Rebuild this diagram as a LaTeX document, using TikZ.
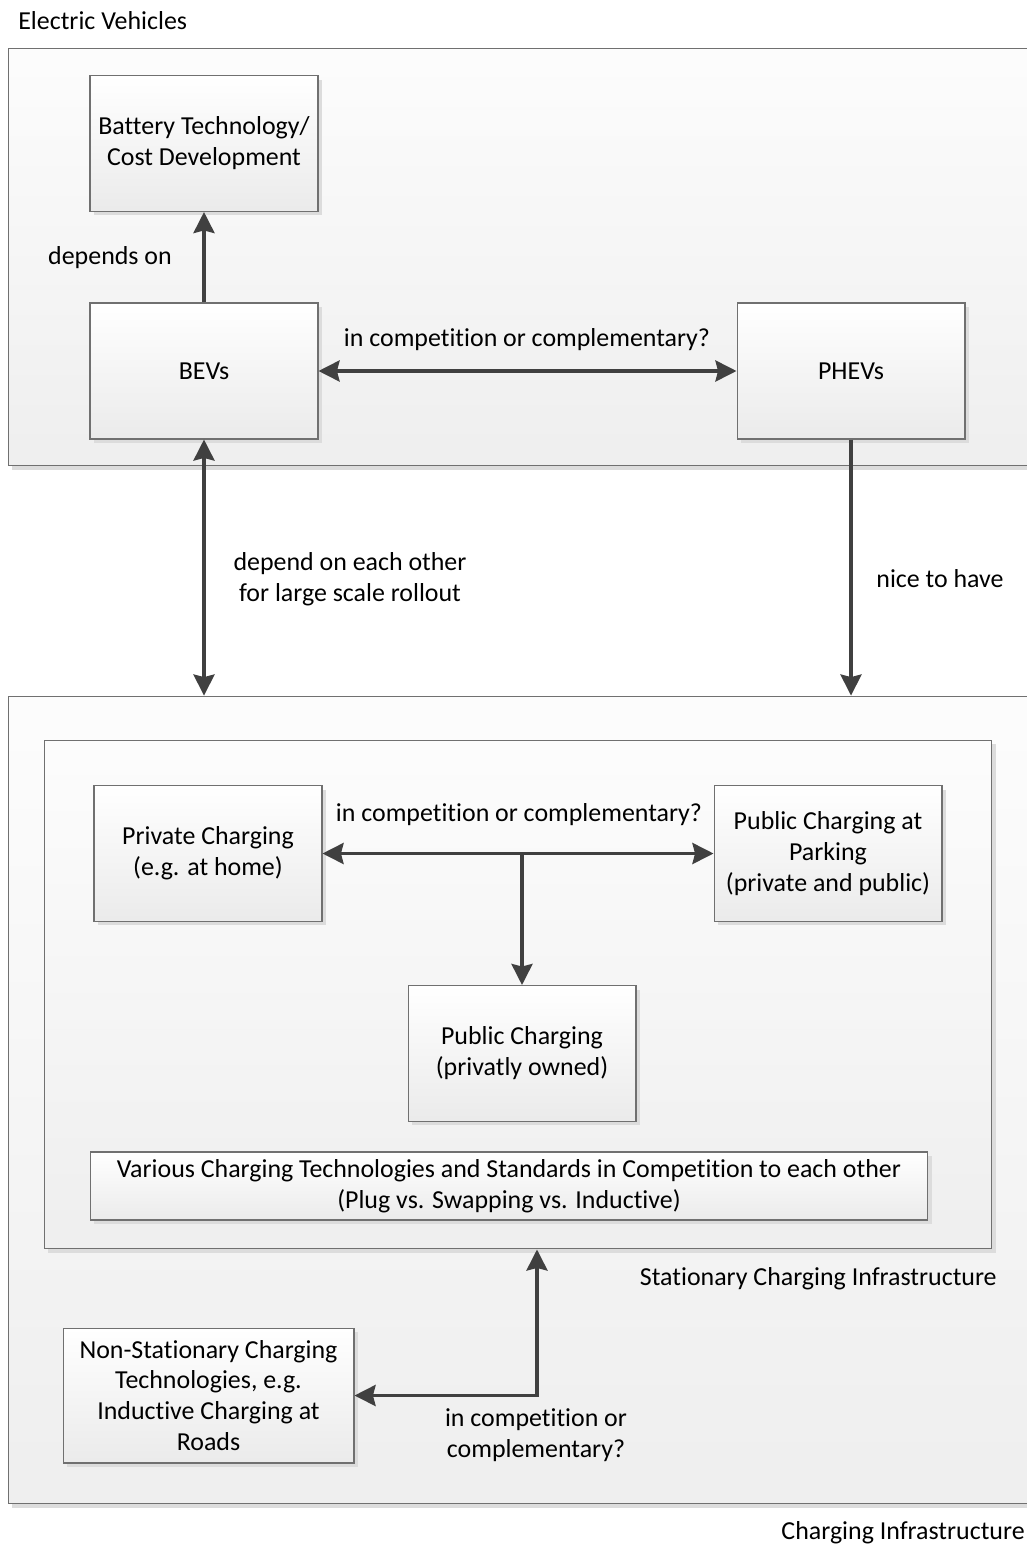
\documentclass[tikz,border=0pt]{standalone}
\usepackage{fontspec}
\setmainfont{Carlito}[Ligatures=NoCommon]
\usetikzlibrary{arrows.meta,shadows}

\definecolor{edgegray}{HTML}{707070}
\definecolor{arrowgray}{HTML}{404040}
\definecolor{shadowgray}{HTML}{DCDCDC}

\tikzset{
  shade box/.style={drop shadow={shadow xshift=0.08cm,shadow yshift=-0.08cm,fill=shadowgray,opacity=1}},
  tip/.tip={Stealth[length=12pt,width=12pt,inset=1.5pt]},
}

\begin{document}
\begin{tikzpicture}[x=0.02cm,y=-0.02cm,
  every node/.style={font=\fontsize{14.75}{17.6}\selectfont},
  frame/.style={draw=edgegray,line width=0.6pt,top color=black!1,bottom color=black!6.5,shade box},
  box/.style={draw=edgegray,line width=0.6pt,top color=white,bottom color=black!8,shade box,
    minimum width=4.56cm,minimum height=2.72cm,align=center,inner sep=2pt},
  link/.style={draw=arrowgray,line width=1.8pt,-tip},
  both/.style={draw=arrowgray,line width=1.8pt,tip-tip},
  lbl/.style={inner sep=0pt,align=center}]

\useasboundingbox[fill=white] (0,0) rectangle (1027,1544);

% outer frames
\node[frame,minimum width=20.64cm,minimum height=8.36cm] (ev) at (524,257) {};
\node[frame,minimum width=20.64cm,minimum height=16.16cm] (infra) at (524,1100) {};
\node[frame,minimum width=18.96cm,minimum height=10.18cm] (stat) at (518,994.5) {};

\node[lbl,anchor=west] (evtitle) at (18,21) {Electric Vehicles};
\node[lbl,anchor=east] (infratitle) at (1025,1533) {Charging Infrastructure};
\node[lbl,anchor=east] (stattitle) at (997,1279) {Stationary Charging Infrastructure};

% vehicles
\node[box] (battery) at (204,143.5) {Battery Technology/\\Cost Development};
\node[box] (bev) at (204,371) {BEVs};
\node[box] (phev) at (851,371) {PHEVs};

% charging
\node[box] (private) at (208,853.5) {Private Charging\\(e.g. at home)};
\node[box] (parking) at (828,853.5) {Public Charging at\\Parking\\(private and public)};
\node[box] (public) at (522,1053.5) {Public Charging\\(privatly owned)};
\node[box,minimum width=16.76cm,minimum height=1.36cm] (various) at (509,1186)
  {Various Charging Technologies and Standards in Competition to each other\\(Plug vs. Swapping vs. Inductive)};
\node[box,minimum width=5.82cm,minimum height=2.7cm] (nonstat) at (208.5,1395.5)
  {Non-Stationary Charging\\Technologies, e.g.\\Inductive Charging at\\Roads};

% connectors
\draw[link] (bev) -- (battery);
\draw[both] (bev) -- (phev);
\draw[both] (bev.south) -- (bev.south |- infra.north);
\draw[link] (phev.south) -- (phev.south |- infra.north);
\draw[both] (private) -- (parking);
\coordinate (split) at (public.north |- private.east);
\draw[link] (split) -- (public);
\draw[both] (nonstat.east) -| ([xshift=0.38cm]stat.south);

% labels
\node[lbl] (dep) at (110,258) {depends on};
\node[lbl] (comp1) at (527,340) {in competition or complementary?};
\node[lbl] (rollout) at (350,579) {depend on each other\\for large scale rollout};
\node[lbl] (nice) at (940,579) {nice to have};
\node[lbl] (comp2) at (519,815) {in competition or complementary?};
\node[lbl] (comp3) at (536,1435) {in competition or\\complementary?};
\end{tikzpicture}
\end{document}
